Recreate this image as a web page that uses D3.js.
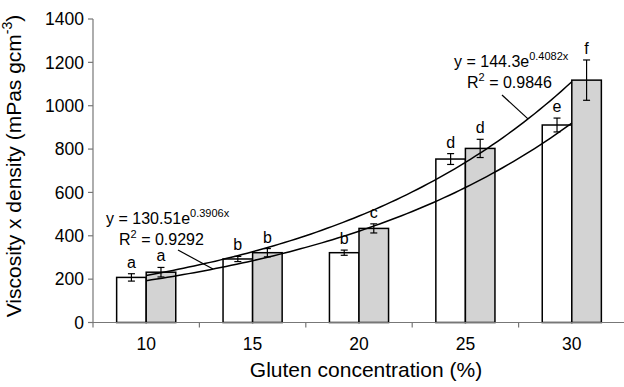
<!DOCTYPE html>
<html>
<head>
<meta charset="utf-8">
<script src="https://cdn.jsdelivr.net/npm/d3@7"></script>
<style>
  body { margin: 0; background: #fff; }
  svg { display: block; font-family: Arial, "Liberation Sans", sans-serif; }
</style>
</head>
<body>
<div class="chart"></div>
<script>
// data
var categories = ["10", "15", "20", "25", "30"];
var whiteValues = [208, 293, 322, 754, 911];
var whiteErrors = [17, 12, 12, 25, 32];
var whiteLetters = ["a", "b", "b", "d", "e"];
var grayValues = [232, 322, 434, 803, 1118];
var grayErrors = [22, 19, 21, 42, 93];
var grayLetters = ["a", "b", "c", "d", "f"];
var yTicks = [0, 200, 400, 600, 800, 1000, 1200, 1400];
// exponential trendlines y = a*e^(b*x), x = category index 1..5
var whiteFit = { a: 130.51, b: 0.3906, r2: "0.9292" };
var grayFit = { a: 144.3, b: 0.4082, r2: "0.9846" };

var width = 624, height = 387;

var svg = d3.select(".chart")
  .append("svg")
  .attr("width", width)
  .attr("height", height);

var x = d3.scaleBand()
  .domain(categories)
  .range([93, 625]);

var sub = d3.scaleBand()
  .domain(["white", "gray"])
  .range([0, x.bandwidth()])
  .paddingOuter(0.8);

var y = d3.scaleLinear()
  .domain([0, 1400])
  .range([322.5, 19]);

var t = d3.scaleLinear()
  .domain([1, 5])
  .range([x("10") + x.bandwidth() / 2, x("30") + x.bandwidth() / 2]);

// y axis
svg.append("line")
  .attr("x1", 93).attr("x2", 93)
  .attr("y1", y(1400)).attr("y2", y(0))
  .style("stroke", "#777").style("stroke-width", 1.2);

svg.selectAll(".ytick")
  .data(yTicks)
  .enter()
  .append("line")
  .attr("x1", 88).attr("x2", 93)
  .attr("y1", function (d) { return y(d); })
  .attr("y2", function (d) { return y(d); })
  .style("stroke", "#777").style("stroke-width", 1.2);

svg.selectAll(".ylabel")
  .data(yTicks)
  .enter()
  .append("text")
  .attr("x", 84)
  .attr("y", function (d) { return y(d); })
  .attr("dy", "0.36em")
  .attr("text-anchor", "end")
  .style("font-size", "17.5px")
  .text(function (d) { return d; });

// bars
var rows = categories.map(function (c, i) {
  return [
    { cat: c, key: "white", v: whiteValues[i], e: whiteErrors[i], l: whiteLetters[i] },
    { cat: c, key: "gray", v: grayValues[i], e: grayErrors[i], l: grayLetters[i] }
  ];
}).flat();

svg.selectAll("rect")
  .data(rows)
  .enter()
  .append("rect")
  .attr("x", function (d) { return x(d.cat) + sub(d.key); })
  .attr("y", function (d) { return y(d.v); })
  .attr("width", sub.bandwidth())
  .attr("height", function (d) { return y(0) - y(d.v); })
  .style("fill", function (d) { return d.key == "white" ? "#fff" : "#d3d3d3"; })
  .style("stroke", "#000")
  .style("stroke-width", 1.5);

// x axis
svg.append("line")
  .attr("x1", 93).attr("x2", 624)
  .attr("y1", y(0)).attr("y2", y(0))
  .style("stroke", "#777").style("stroke-width", 1.2);

var bounds = categories.map(function (c) { return x(c); });
svg.selectAll(".xtick")
  .data(bounds)
  .enter()
  .append("line")
  .attr("x1", function (d) { return d; })
  .attr("x2", function (d) { return d; })
  .attr("y1", y(0)).attr("y2", y(0) + 5)
  .style("stroke", "#777").style("stroke-width", 1.2);

svg.selectAll(".xlabel")
  .data(categories)
  .enter()
  .append("text")
  .attr("x", function (d) { return x(d) + x.bandwidth() / 2; })
  .attr("y", 350)
  .attr("text-anchor", "middle")
  .style("font-size", "17.5px")
  .text(function (d) { return d; });

// error bars
var err = svg.selectAll(".err")
  .data(rows)
  .enter()
  .append("g");

function cx(d) { return x(d.cat) + sub(d.key) + sub.bandwidth() / 2; }

err.append("line")
  .attr("x1", cx).attr("x2", cx)
  .attr("y1", function (d) { return y(d.v + d.e); })
  .attr("y2", function (d) { return y(d.v - d.e); });
err.append("line")
  .attr("x1", function (d) { return cx(d) - 3.5; })
  .attr("x2", function (d) { return cx(d) + 3.5; })
  .attr("y1", function (d) { return y(d.v + d.e); })
  .attr("y2", function (d) { return y(d.v + d.e); });
err.append("line")
  .attr("x1", function (d) { return cx(d) - 3.5; })
  .attr("x2", function (d) { return cx(d) + 3.5; })
  .attr("y1", function (d) { return y(d.v - d.e); })
  .attr("y2", function (d) { return y(d.v - d.e); });
err.selectAll("line").style("stroke", "#000").style("stroke-width", 1.2);

err.append("text")
  .attr("x", cx)
  .attr("y", function (d) { return y(d.v + d.e) - 6; })
  .attr("text-anchor", "middle")
  .style("font-size", "16px")
  .text(function (d) { return d.l; });

// trendlines
function fitLine(f) {
  var pts = d3.range(1, 5.001, 0.05).map(function (k) { return [k, f.a * Math.exp(f.b * k)]; });
  return d3.line()
    .x(function (d) { return t(d[0]); })
    .y(function (d) { return y(d[1]); })(pts);
}

[whiteFit, grayFit].forEach(function (f) {
  svg.append("path")
    .attr("d", fitLine(f))
    .style("fill", "none")
    .style("stroke", "#000")
    .style("stroke-width", 1.5);
});

// equation labels with leader lines
function equation(f, ex, ey, lx0, ly0, px) {
  var k = t.invert(px);
  var eq = svg.append("text")
    .attr("x", ex).attr("y", ey)
    .style("font-size", "16px");
  eq.append("tspan").text("y = " + f.a + "e");
  eq.append("tspan")
    .attr("dy", -7)
    .style("font-size", "11px")
    .text(f.b + "x");

  var r = svg.append("text")
    .attr("x", ex + 13).attr("y", ey + 21)
    .style("font-size", "16px");
  r.append("tspan").text("R");
  r.append("tspan").attr("dy", -7).style("font-size", "11px").text("2");
  r.append("tspan").attr("dy", 7).text(" = " + f.r2);

  svg.append("line")
    .attr("x1", lx0).attr("y1", ly0)
    .attr("x2", px).attr("y2", y(f.a * Math.exp(f.b * k)))
    .style("stroke", "#000").style("stroke-width", 1.2);
}

equation(whiteFit, 106, 224, 178, 250, 213);
equation(grayFit, 454, 67, 502, 95, 528);

// axis titles
svg.append("text")
  .attr("x", 366)
  .attr("y", 377)
  .attr("text-anchor", "middle")
  .style("font-size", "21px")
  .text("Gluten concentration (%)");

var yt = svg.append("text")
  .attr("transform", "translate(21,166) rotate(-90)")
  .attr("text-anchor", "middle")
  .style("font-size", "21px");
yt.append("tspan").text("Viscosity x density (mPas gcm");
yt.append("tspan").attr("dy", -9).style("font-size", "14px").text("-3");
yt.append("tspan").attr("dy", 9).text(")");
</script>
</body>
</html>
